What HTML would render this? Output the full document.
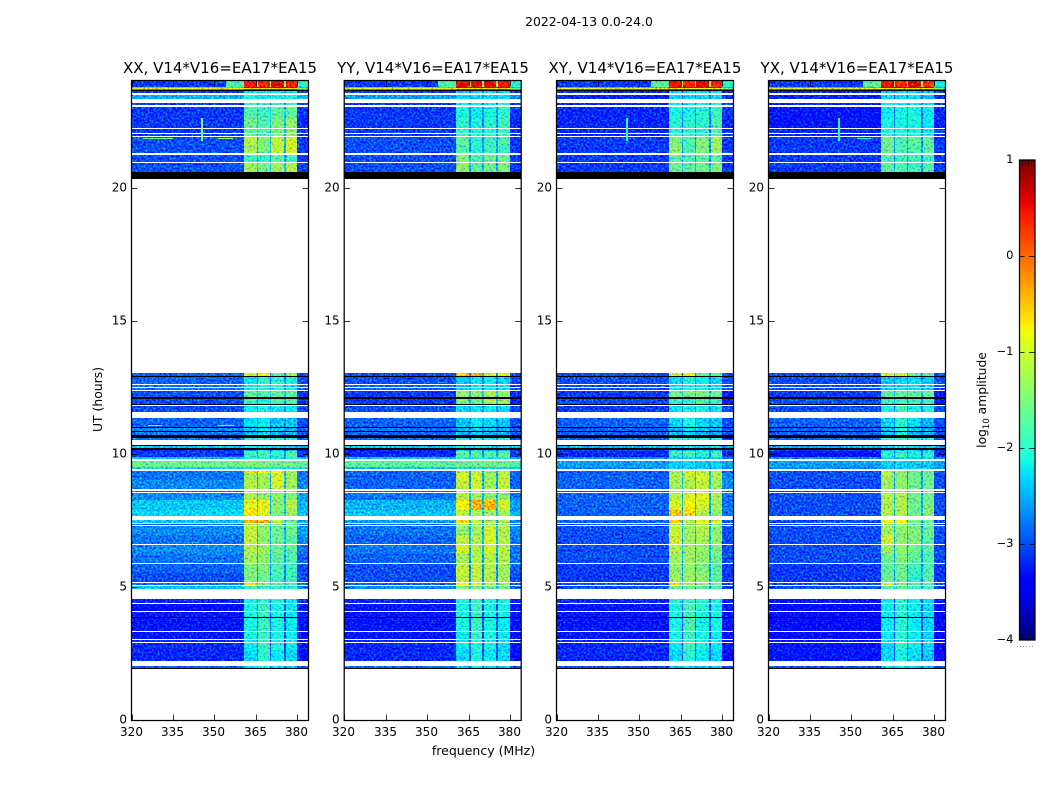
<!DOCTYPE html>
<html lang="en">
<head>
<meta charset="utf-8">
<title>2022-04-13 0.0-24.0</title>
<style>
html,body{margin:0;padding:0;background:#fff;}
svg{display:block;}
text{font-family:"DejaVu Sans","Liberation Sans",sans-serif;fill:#000;}
</style>
</head>
<body>
<svg id="figure" xmlns="http://www.w3.org/2000/svg" width="1050" height="800" viewBox="0 0 1050 800">
  <defs>
    <filter id="grain" x="0" y="0" width="100%" height="100%" color-interpolation-filters="sRGB">
      <feTurbulence type="fractalNoise" baseFrequency="0.5" numOctaves="2" seed="7" result="n"/>
      <feColorMatrix in="n" type="matrix" values="0.3 0 0 0 0.35  1 0 0 0 0  -0.4 0 0 0 0.7  0 0 0 0 1" result="c"/>
      <feComposite in="SourceGraphic" in2="c" operator="arithmetic" k1="0" k2="1" k3="1.3" k4="-0.65"/>
    </filter>
  </defs>
  <rect x="0" y="0" width="1050" height="800" fill="#fff"/>
  <text x="589" y="26" font-size="12.4" text-anchor="middle">2022-04-13 0.0-24.0</text>
  <text x="220" y="73" font-size="15" text-anchor="middle">XX, V14*V16=EA17*EA15</text>
  <text x="433" y="73" font-size="15" text-anchor="middle">YY, V14*V16=EA17*EA15</text>
  <text x="645" y="73" font-size="15" text-anchor="middle">XY, V14*V16=EA17*EA15</text>
  <text x="857" y="73" font-size="15" text-anchor="middle">YX, V14*V16=EA17*EA15</text>
  <text transform="translate(102,399.5) rotate(-90)" font-size="12.4" text-anchor="middle">UT (hours)</text>
  <text x="483.5" y="755" font-size="12.5" text-anchor="middle">frequency (MHz)</text>
  <text transform="translate(986,400) rotate(-90)" font-size="12.3" text-anchor="middle">log<tspan font-size="8.5" dy="3">10</tspan><tspan dy="-3"> amplitude</tspan></text>
  <g id="panels"></g>
  <g id="colorbar"></g>
</svg>
<script>
// ---- Axis categories and tick labels ----
const xTicks = [320, 335, 350, 365, 380];
const yTicks = [0, 5, 10, 15, 20];
const colorbarTicks = [-4, -3, -2, -1, 0, 1];
const colorbarTickLabels = ["\u22124", "\u22123", "\u22122", "\u22121", "0", "1"];
const colorbarMinor = [-4, 1];
const panelNames = ["xx", "yy", "xy", "yx"];

// Frequency segments (MHz): left, ramp, sub-band 1, gap, sub-band 2, gap, sub-band 3, gap, sub-band 4, right
const freqEdges = [320, 354, 360.5, 365.2, 365.8, 369.9, 370.6, 375, 375.7, 379.9, 384];

// Time rows (UT hours, top to bottom) and their kind: d = data, w = flagged blank, k = black
const rowEdges = [24.00,23.77,23.74,23.70,23.66,23.62,23.55,23.47,23.32,23.17,23.10,23.02,22.61,22.23,22.20,22.05,22.01,21.93,21.90,21.60,21.30,21.22,20.96,20.92,20.58,20.32,
13.03,12.92,12.88,12.62,12.58,12.51,12.47,12.39,12.36,12.13,12.06,11.87,11.83,11.79,11.57,11.34,11.00,10.97,10.85,10.82,10.70,10.59,10.52,10.33,10.29,10.22,10.14,10.10,9.88,9.80,9.73,9.50,9.43,9.35,9.28,9.01,8.68,8.60,8.56,8.53,8.26,7.89,7.66,7.51,7.40,7.36,7.32,7.29,6.95,6.61,6.57,6.23,5.90,5.86,5.52,5.18,5.15,5.07,5.03,4.92,4.54,4.39,4.36,4.09,4.06,3.87,3.83,3.34,3.31,3.04,3.00,2.93,2.89,2.63,2.22,2.03,1.95,1.92,0];
const rowKinds = "ddddkdwdwdwddwdwdwddwdwdkw" + "dkdwdwdwdkdkw" + "dwdkdkdkdw" + "kdkdddwddw" + "dddwdwdddw" + "dwdwddwddw" + "ddwdwdwdwd" + "wdkdwdwdwd" + "dwdkw";

// log10 amplitude per data row: [left, band1, band2, band3, band4, gap, right, (ramp)]
const valuesXX = [
[-3.1,.45,.4,.6,.45,-1.3,-2,-1.8],[-2.2,.75,.75,.75,.75,.7,-2.4],[-.9,-.7,-.7,-.7,-.7,-.7,-1.6],[-2.6,.6,.6,.6,.6,.6,-2.6],
[-3.1,-2.3,-2.2,-2.2,-2.2,-2.8,-3.1],[-2.5,-2.1,-2.2,-2.1,-2.1,-2.4,-2.5],[-3.1,-1.9,-2,-1.9,-1.9,-2.7,-3.1],
[-3.1,-1.8,-1.9,-1.7,-1.7,-2.4,-3.1],[-3.1,-1.6,-1.8,-1.5,-1.4,-2.4,-3.2],[-3.1,-1.7,-1.8,-1.5,-1.4,-2.4,-3.1],[-3.1,-1.6,-1.8,-1.5,-1.4,-2.4,-3.1],
[-3,-1.2,-1.5,-1.1,-1,-2.5,-3.1],[-3,-1.3,-1.5,-1.1,-1,-2.5,-3.1],[-3,-1.9,-2,-1.7,-1.9,-2.6,-3.1],[-3,-1.3,-1.6,-1.3,-1.2,-2.4,-3.1],
[-2.9,-1,-.8,-1.7,-1.3,-2.6,-3],[-2.9,-2.2,-2,-2,-2.1,-2.7,-3],[-2.8,-2.2,-2,-2,-2.2,-2.6,-2.9],[-2.8,-2.2,-2,-2.1,-2.2,-2.6,-2.9],
[-3,-1.7,-1.8,-1.7,-1.7,-2.4,-3.2],[-3,-1.9,-2.1,-1.8,-1.8,-2.6,-3.2],[-3,-2.2,-2.1,-2.2,-2.2,-2.7,-3],[-2.9,-2.3,-2.2,-2.4,-2.4,-2.7,-3],
[-2.7,-2.4,-2.2,-2.4,-2.5,-2.7,-2.9],[-2.8,-2.5,-2.3,-2.5,-2.5,-2.8,-3],[-2.8,-2,-2,-2.1,-2.1,-2.7,-2.9],[-2.4,-2.2,-2.2,-2.3,-2.3,-2.4,-2.5],
[-3.2,-2.4,-2.4,-2.4,-2.4,-3,-3.2],[-3.1,-1.9,-1.8,-2,-1.8,-2.6,-3.1],[-2.4,-2.1,-2.1,-2.2,-2.1,-2.3,-2.5],[-1.6,-1.5,-1.5,-1.6,-1.6,-1.6,-1.7],[-2.3,-2.2,-2.2,-2.2,-2.2,-2.3,-2.3],
[-2.8,-.6,-.7,-.7,-1.3,-2.4,-2.8],[-2.8,-1.3,-1.3,-1,-1.3,-2.5,-2.8],[-2.7,-1.2,-1.3,-1,-1.3,-2.5,-2.7],[-2.9,-1.3,-1.4,-1.3,-1.4,-2.6,-2.8],
[-2.7,-1.2,-1.4,-1.4,-1.5,-2.5,-2.6],[-2.4,-.9,-.9,-1.4,-1.2,-2.4,-2.5],[-2.3,-.7,-.9,-1.5,-1.3,-2.4,-2.4],[-2.4,-.4,-.4,-1.1,-1.6,-2.5,-2.5],[-2.9,-1.4,-1.5,-1.6,-1.7,-2.7,-2.8],
[-2.7,-1.1,-1.4,-1.6,-1.6,-2.5,-2.6],[-2.8,-1.1,-1.4,-1.6,-1.7,-2.5,-2.7],[-2.7,-1.2,-1.3,-1.6,-1.7,-2.5,-2.8],[-2.8,-1.3,-1.4,-1.7,-1.8,-2.6,-2.9],
[-2.9,-1.5,-1.5,-1.8,-1.9,-2.7,-3],[-3,-1.5,-1.6,-1.9,-1.9,-2.7,-3],[-2.8,-.6,-1.5,-1.6,-1.8,-2.6,-2.9],[-2.4,-1.9,-1.9,-2,-2,-2.4,-2.6],
[-3.2,-2.1,-2,-2.1,-2.2,-2.9,-3.2],[-3.4,-2.1,-1.9,-2.1,-2.2,-3,-3.3],[-3.3,-2.1,-1.9,-2.1,-2.2,-3,-3.3],[-3.3,-2.1,-1.9,-2.1,-2.2,-3,-3.3],[-3.3,-2.1,-1.9,-2.1,-2.2,-3,-3.4],
[-3.2,-2.2,-1.9,-2.1,-2.2,-3,-3.3],[-3.2,-2.2,-1.9,-2.1,-2.2,-3,-3.3],[-3.2,-2.3,-2,-2.2,-2.3,-3,-3.4],[-2.9,-2.3,-2.2,-2.3,-2.4,-2.8,-3]
];
const valuesYY = [
[-3.1,.6,.6,.6,.5,-1.3,-2,-1.8],[-2.2,.75,.75,.75,.75,.7,-2.4],[-.9,-.7,-.7,-.7,-.7,-.7,-1.6],[-2.6,.6,.6,.6,.6,.6,-2.6],
[-3.1,-2.4,-2.3,-2.3,-2.3,-2.9,-3.1],[-2.6,-2.3,-2.3,-2.3,-2.3,-2.5,-2.7],[-3.1,-2.2,-2.2,-2.2,-2.1,-2.8,-3.1],
[-3.1,-2.1,-2.2,-2.1,-2,-2.7,-3.1],[-3.1,-2,-2.1,-2,-1.9,-2.7,-3.2],[-3.1,-1.9,-2,-2,-1.9,-2.6,-3.1],[-3.1,-1.9,-2,-2,-1.9,-2.6,-3.1],
[-3,-1.7,-2,-1.9,-1.8,-2.6,-3.1],[-3,-1.8,-2,-1.9,-1.9,-2.6,-3.1],[-3,-1.5,-1.8,-1.6,-1.6,-2.5,-3.1],[-3,-1.4,-1.7,-1.6,-1.5,-2.5,-3.1],
[-3,-.5,-.4,-1,-.9,-2.6,-3],[-3,-2.4,-2.2,-2.2,-2.3,-2.7,-3],[-2.9,-2.4,-2.2,-2.2,-2.3,-2.7,-3],[-2.9,-2.4,-2.2,-2.2,-2.3,-2.7,-3],
[-3.1,-1.4,-1.4,-1.3,-1.4,-2.4,-3.2],[-3.1,-1.5,-1.6,-1.2,-1.3,-2.4,-3.2],[-3,-2.3,-2.2,-2.2,-2.3,-2.7,-3],[-2.9,-2.4,-2.2,-2.3,-2.4,-2.7,-3],
[-2.8,-2.5,-2.3,-2.4,-2.5,-2.7,-2.9],[-2.9,-2.5,-2.4,-2.5,-2.5,-2.8,-3],[-2.9,-2.1,-2,-2.1,-2.1,-2.7,-3],[-2.4,-2.2,-2.2,-2.3,-2.3,-2.4,-2.5],
[-3.2,-2.4,-2.4,-2.4,-2.4,-3,-3.2],[-3.2,-1.7,-1.7,-1.8,-1.7,-2.6,-3.1],[-2.4,-2.1,-2.1,-2.2,-2.1,-2.3,-2.5],[-1.7,-1.6,-1.6,-1.6,-1.6,-1.7,-1.8],[-2.4,-2.3,-2.3,-2.3,-2.3,-2.4,-2.4],
[-2.9,-1.1,-1.1,-1.4,-1.2,-2.5,-2.9],[-2.9,-1,-1,-1.3,-1.1,-2.6,-2.9],[-2.9,-1.1,-1,-1.3,-1.1,-2.6,-2.9],[-2.9,-1.2,-1.2,-1.4,-1.3,-2.6,-2.9],
[-2.8,-1.2,-1.3,-1.4,-1.4,-2.5,-2.8],[-2.5,-.8,-.4,-.4,-1,-2.4,-2.6],[-2.4,-1.1,-1.2,-1.3,-1.3,-2.4,-2.5],[-2.6,-.6,-1.1,-1.2,-1.2,-2.5,-2.7],[-2.9,-1.4,-1.4,-1.5,-1.5,-2.7,-2.9],
[-2.8,-1.4,-1.3,-1,-1.2,-2.5,-2.7],[-2.9,-1.1,-1.2,-1,-1.2,-2.5,-2.8],[-2.8,-1,-1.2,-1,-1.2,-2.5,-2.8],[-2.9,-1.3,-1.2,-1.2,-1.2,-2.6,-2.8],
[-3,-1.1,-1.1,-1.2,-1.3,-2.7,-2.9],[-3,-1.1,-1.1,-1.2,-1.3,-2.7,-3],[-2.9,-.8,-1.1,-1.2,-1.3,-2.6,-2.9],[-2.7,-1.5,-1.5,-1.6,-1.6,-2.5,-2.8],
[-3.2,-2.1,-1.9,-2.1,-2.1,-2.9,-3.2],[-3.3,-2.1,-1.9,-2.1,-2.1,-3,-3.3],[-3.3,-2.1,-1.9,-2.1,-2.1,-3,-3.3],[-3.3,-2.1,-1.9,-2.1,-2.2,-3,-3.3],[-3.3,-2.2,-1.9,-2.1,-2.2,-3,-3.4],
[-3.2,-2.2,-2,-2.2,-2.2,-3,-3.3],[-3.2,-2.2,-2,-2.1,-2.3,-3,-3.3],[-3.2,-2.3,-2.1,-2.2,-2.3,-3,-3.4],[-2.9,-2.3,-2.2,-2.3,-2.4,-2.8,-3]
];
const valuesXY = [
[-3.1,.5,.4,.65,.4,-1.2,-2,-1.7],[-2.4,.75,.75,.75,.75,.7,-2.5],[-.9,-.7,-.7,-.7,-.7,-.7,-1.6],[-2.8,.6,.6,.6,.6,.6,-2.8],
[-3.2,-2.4,-2.3,-2.3,-2.3,-2.9,-3.1],[-3.2,-2.3,-2.3,-2.3,-2.3,-2.9,-3.2],[-3.2,-2.2,-2.2,-2.2,-2.1,-2.8,-3.1],
[-3.2,-2.1,-2.1,-2,-1.9,-2.7,-3.1],[-3.2,-2,-2,-2,-1.8,-2.7,-3.2],[-3.2,-2,-2,-2,-1.8,-2.7,-3.1],[-3.2,-1.9,-2,-1.9,-1.8,-2.7,-3.1],
[-3.1,-1.5,-1.8,-1.5,-1.3,-2.6,-3.1],[-3.1,-1.4,-1.8,-1.5,-1.3,-2.6,-3.1],[-3.1,-1.7,-1.8,-1.7,-1.7,-2.6,-3.1],[-3.1,-1.6,-1.7,-1.6,-1.5,-2.5,-3.1],
[-3,-1,-.7,-1.7,-1.7,-2.6,-3],[-3,-2.3,-2.1,-2.2,-2.3,-2.7,-3],[-3,-2.3,-2.1,-2.2,-2.3,-2.7,-3],[-3,-2.3,-2.1,-2.2,-2.3,-2.7,-3],
[-3.1,-1.6,-1.6,-1.5,-1.6,-2.4,-3.3],[-3,-1.9,-2,-1.8,-1.9,-2.6,-3.2],[-3.1,-2.2,-2.1,-2.1,-2.2,-2.7,-3],[-2.9,-2.3,-2.1,-2.3,-2.4,-2.7,-3],
[-2.9,-2.5,-2.3,-2.4,-2.5,-2.8,-3],[-2.9,-2.5,-2.3,-2.5,-2.5,-2.8,-3],[-2.9,-2,-2,-2.1,-2.1,-2.7,-3],[-2.5,-2.3,-2.2,-2.3,-2.3,-2.5,-2.6],
[-3,-2.4,-2.4,-2.4,-2.4,-3,-3.1],[-3.2,-1.9,-1.8,-2,-1.9,-2.7,-3.2],[-2.7,-2.3,-2.3,-2.4,-2.3,-2.6,-2.7],[-2.6,-2.3,-2.3,-2.4,-2.3,-2.6,-2.6],[-2.7,-2.4,-2.4,-2.4,-2.4,-2.6,-2.7],
[-2.9,-1.3,-.9,-1.1,-1.2,-2.5,-2.9],[-2.9,-1.2,-1.1,-1,-1.2,-2.4,-2.7],[-2.9,-1.3,-1.2,-1.1,-1.3,-2.4,-2.7],[-3,-1.3,-1.2,-1.2,-1.4,-2.6,-3],
[-2.9,-1.2,-1,-.9,-1.2,-2.5,-2.8],[-2.9,-1,-.8,-1,-1.3,-2.5,-2.8],[-2.9,-.5,-.6,-1.2,-1.4,-2.5,-2.8],[-2.9,-.5,-1.2,-.9,-.9,-2.6,-2.9],[-3,-1.4,-1.4,-1.4,-1.5,-2.7,-3],
[-3,-1.1,-1.3,-1.2,-1.4,-2.5,-3],[-3,-1,-1.3,-1.3,-1.4,-2.5,-3],[-3,-1.2,-1.3,-1.4,-1.5,-2.5,-3],[-3,-1.3,-1.3,-1.4,-1.6,-2.5,-3],
[-3.1,-1.4,-1.4,-1.5,-1.7,-2.6,-3.1],[-3.1,-1.3,-1.3,-1.4,-1.7,-2.6,-3.1],[-3,-.5,-1.3,-1.3,-1.6,-2.6,-3],[-3,-1.6,-1.6,-1.7,-1.8,-2.6,-3],
[-3.2,-2,-1.9,-2,-2.1,-2.9,-3.2],[-3.3,-2.1,-1.8,-2,-2.1,-3,-3.3],[-3.3,-2.1,-1.9,-2.1,-2.1,-3,-3.3],[-3.3,-2.1,-1.8,-2.1,-2.1,-3,-3.3],[-3.3,-2.1,-1.9,-2.1,-2.2,-3,-3.4],
[-3.2,-2.2,-1.9,-2.2,-2.2,-3,-3.3],[-3.2,-2.2,-1.9,-2.1,-2.2,-3,-3.3],[-3.2,-2.3,-2,-2.2,-2.3,-3,-3.4],[-3,-2.4,-2.2,-2.4,-2.4,-2.8,-3]
];
const valuesYX = [
[-3.1,.5,.4,.65,.3,-1.2,-2.1,-1.7],[-2.4,.75,.75,.75,.75,.7,-2.5],[-.9,-.7,-.7,-.7,-.7,-.7,-1.6],[-2.8,.6,.6,.6,.6,.6,-2.8],
[-3.2,-2.4,-2.3,-2.3,-2.4,-2.9,-3.1],[-3.2,-2.3,-2.3,-2.3,-2.4,-2.9,-3.2],[-3.2,-2.2,-2.2,-2.2,-2.3,-2.8,-3.1],
[-3.3,-2.2,-2.1,-2.1,-2.2,-2.8,-3.2],[-3.3,-2.1,-2.1,-2.1,-2.2,-2.8,-3.2],[-3.2,-2.1,-2.1,-2.1,-2.2,-2.8,-3.1],[-3.2,-2,-2,-2.1,-2.1,-2.8,-3.1],
[-3.1,-1.6,-1.8,-1.7,-1.7,-2.6,-3.1],[-3.1,-1.6,-1.8,-1.8,-1.7,-2.6,-3.1],[-3.1,-1.8,-1.9,-1.9,-1.9,-2.6,-3.1],[-3.1,-1.7,-1.8,-1.9,-1.8,-2.6,-3.1],
[-3,-.9,-1,-1.7,-1.6,-2.6,-3],[-3,-2.4,-2.3,-2.3,-2.4,-2.7,-3],[-3,-2.4,-2.3,-2.3,-2.4,-2.7,-3],[-3,-2.4,-2.3,-2.3,-2.4,-2.7,-3],
[-3.1,-1.7,-1.7,-1.7,-1.7,-2.4,-3.3],[-3,-1.9,-1.9,-1.9,-1.9,-2.6,-3.2],[-3,-2.1,-1.9,-2.1,-2.1,-2.7,-3],[-2.9,-2.3,-2,-2.3,-2.5,-2.7,-3],
[-2.9,-2.4,-2.1,-2.4,-2.5,-2.8,-3],[-2.9,-2.4,-2.1,-2.5,-2.5,-2.8,-3],[-2.9,-2,-1.9,-2.1,-2.1,-2.7,-3],[-2.5,-2.3,-2.2,-2.3,-2.3,-2.5,-2.6],
[-3.1,-2.4,-2.4,-2.4,-2.4,-3,-3.1],[-3.3,-2,-1.9,-2.1,-2,-2.7,-3.2],[-2.7,-2.3,-2.3,-2.4,-2.3,-2.6,-2.7],[-2.6,-2.4,-2.3,-2.4,-2.4,-2.6,-2.6],[-2.7,-2.4,-2.4,-2.4,-2.4,-2.6,-2.7],
[-3,-1.2,-1.3,-1.6,-1.6,-2.6,-3],[-3,-1.2,-1.4,-1.6,-1.6,-2.6,-3],[-3,-1.3,-1.4,-1.6,-1.6,-2.6,-3],[-3.1,-1.4,-1.5,-1.7,-1.7,-2.7,-3.1],
[-3,-1.2,-1.2,-1.6,-1.6,-2.5,-3],[-3,-1.2,-1.2,-1.6,-1.5,-2.5,-3],[-3,-1.2,-1.2,-1.6,-1.4,-2.5,-3],[-3,-.8,-.8,-1.6,-1.7,-2.6,-3],[-3.1,-1.5,-1.5,-1.7,-1.7,-2.7,-3.1],
[-3,-1.3,-1.4,-1.5,-1.6,-2.5,-3],[-3,-1,-1.4,-1.5,-1.7,-2.5,-3],[-3,-1.3,-1.4,-1.6,-1.7,-2.5,-3],[-3,-1.6,-1.5,-1.7,-1.8,-2.6,-3],
[-3.1,-1.7,-1.6,-1.9,-1.8,-2.6,-3.1],[-3.1,-1.6,-1.6,-2,-1.7,-2.6,-3.1],[-3,-.9,-1.5,-1.8,-1.7,-2.6,-3],[-3,-1.8,-1.7,-1.9,-1.9,-2.6,-3],
[-3.3,-2.2,-2,-2.2,-2.3,-3,-3.3],[-3.4,-2.2,-2,-2.2,-2.3,-3,-3.4],[-3.4,-2.2,-2,-2.2,-2.3,-3,-3.4],[-3.4,-2.2,-2,-2.2,-2.3,-3,-3.4],[-3.4,-2.2,-2,-2.2,-2.3,-3,-3.4],
[-3.3,-2.3,-2,-2.2,-2.3,-3,-3.4],[-3.3,-2.3,-2,-2.2,-2.3,-3,-3.4],[-3.3,-2.3,-2.1,-2.3,-2.4,-3,-3.4],[-3,-2.4,-2.2,-2.3,-2.4,-2.8,-3.1]
];
// Narrow interference features: [freq start MHz, freq end MHz, UT top, UT bottom, log10 amplitude]
const featuresXX = [[345.3,345.9,22.61,21.75,-1.5],[324,335,21.87,21.84,-1.6],[351.3,356.8,21.87,21.84,-1.4],[351.3,357,11.08,11.05,-.5],[326,331,11.08,11.05,-1.6]];
const featuresYY = [];
const featuresXY = [[345.3,345.9,22.61,21.75,-2.1]];
const featuresYX = [[345.3,345.9,22.61,21.75,-2.1],[352,357,21.87,21.84,-2.2]];

// ---- Axis functions ----
const panelLeft = [131.5, 344.2, 556.5, 768.5];
const panelWidth = 177, plotTop = 80.5, plotBottom = 720.5;
const xMax = 384, yMax = 24, cMin = -4, cMax = 1;
const cbLeft = 1019.5, cbWidth = 15.5, cbTop = 160, cbBottom = 640;
function xScale(p, f) { return panelLeft[p] + (f - 320) * panelWidth / (xMax - 320); }
function yScale(h) { return 720 - h * 26.625; }
function cScale(v) { return cbBottom - (v - cMin) * (cbBottom - cbTop) / (cMax - cMin); }

function seg(t, pts) {
  for (let i = 0; i < pts.length - 1; i++) {
    if (t <= pts[i + 1][0]) { return pts[i][1] + (pts[i + 1][1] - pts[i][1]) * (t - pts[i][0]) / (pts[i + 1][0] - pts[i][0]); }
  }
  return pts[pts.length - 1][1];
}
function jet(v) {
  const t = Math.max(0, Math.min(1, (v - cMin) / (cMax - cMin)));
  const r = seg(t, [[0,0],[.35,0],[.66,1],[.89,1],[1,.5]]);
  const g = seg(t, [[0,0],[.125,0],[.375,1],[.64,1],[.91,0],[1,0]]);
  const b = seg(t, [[0,.5],[.11,1],[.34,1],[.65,0],[1,0]]);
  return "rgb(" + Math.round(r * 255) + "," + Math.round(g * 255) + "," + Math.round(b * 255) + ")";
}

const NS = "http://www.w3.org/2000/svg";
function svgEl(tag, attrs, parent) {
  const el = document.createElementNS(NS, tag);
  for (const k in attrs) { el.setAttribute(k, attrs[k]); }
  parent.appendChild(el);
  return el;
}

const allValues = [valuesXX, valuesYY, valuesXY, valuesYX];
const allFeatures = [featuresXX, featuresYY, featuresXY, featuresYX];
const panelsRoot = document.getElementById("panels");

panelNames.forEach(function (name, p) {
  const x0 = Math.round(xScale(p, 320));
  const x1 = Math.round(xScale(p, xMax));
  const g = svgEl("g", {}, panelsRoot);
  
  

  const cells = svgEl("g", { filter: "url(#grain)", "shape-rendering": "crispEdges" }, g);
  
  
  const overlay = svgEl("g", { "shape-rendering": "crispEdges" }, g);
  
  

  let dataIndex = 0;
  for (let r = 0; r < rowEdges.length - 1; r++) {
    const yA = Math.round(yScale(rowEdges[r]));
    const yB = Math.round(yScale(rowEdges[r + 1]));
    const kind = rowKinds[r];
    if (kind === "d") {
      const row = allValues[p][dataIndex++];
      if (!row) { continue; }
      const ramp = row[7] !== undefined ? row[7] : row[0];
      const segValues = [row[0], ramp, row[1], row[5], row[2], row[5], row[3], row[5], row[4], row[6]];
      for (let s = 0; s < segValues.length; s++) {
        const a = Math.round(xScale(p, freqEdges[s]));
        const b = Math.round(xScale(p, freqEdges[s + 1]));
        const cell = svgEl("rect", { x: a, y: yA, width: b - a, height: yB - yA, fill: jet(segValues[s]) }, cells);
        
        
      }
    } else {
      const flag = svgEl("rect", { x: x0, y: yA, width: x1 - x0, height: yB - yA, fill: kind === "k" ? "#000" : "#fff" }, overlay);
      
      
    }
  }

  allFeatures[p].forEach(function (f) {
    const a = Math.round(xScale(p, f[0]));
    const b = Math.round(xScale(p, f[1]));
    const yA = Math.round(yScale(f[2]));
    const yB = Math.round(yScale(f[3]));
    const mark = svgEl("rect", { x: a, y: yA, width: Math.max(1, b - a), height: Math.max(1, yB - yA), fill: jet(f[4]) }, overlay);
    
    
  });

  const frame = svgEl("rect", { x: panelLeft[p], y: plotTop, width: panelWidth, height: plotBottom - plotTop, fill: "none", stroke: "#000", "stroke-width": 1.25 }, g);
  
  

  xTicks.forEach(function (t) {
    const x = Math.round(xScale(p, t)) + 0.5;
    const bottom = svgEl("line", { x1: x, x2: x, y1: plotBottom, y2: plotBottom - 6, stroke: "#000", "stroke-width": 0.8 }, g);
    
    
    const top = svgEl("line", { x1: x, x2: x, y1: plotTop, y2: plotTop + 6, stroke: "#000", "stroke-width": 0.8 }, g);
    
    
    const label = svgEl("text", { x: x - 1, y: 736, "font-size": 12, "text-anchor": "middle" }, g);
    
    
    label.textContent = String(t);
  });
  yTicks.forEach(function (t) {
    const y = Math.round(yScale(t)) + 0.5;
    const left = svgEl("line", { x1: panelLeft[p], x2: panelLeft[p] + 6, y1: y, y2: y, stroke: "#000", "stroke-width": 0.8 }, g);
    
    
    const right = svgEl("line", { x1: panelLeft[p] + panelWidth, x2: panelLeft[p] + panelWidth - 6, y1: y, y2: y, stroke: "#000", "stroke-width": 0.8 }, g);
    
    
    const label = svgEl("text", { x: panelLeft[p] - 4.5, y: y + 3, "font-size": 12, "text-anchor": "end" }, g);
    
    
    label.textContent = String(t);
  });
});

// ---- Colorbar ----
const cb = document.getElementById("colorbar");
const cbRamp = svgEl("g", { "shape-rendering": "crispEdges" }, cb);


for (let py = cbTop; py < cbBottom; py++) {
  const v = cMin + (cbBottom - py - 0.5) * (cMax - cMin) / (cbBottom - cbTop);
  const step = svgEl("rect", { x: Math.floor(cbLeft), y: py, width: Math.ceil(cbWidth), height: 1, fill: jet(v) }, cbRamp);
  
  
}
const cbFrame = svgEl("rect", { x: cbLeft, y: cbTop, width: cbWidth, height: cbBottom - cbTop, fill: "none", stroke: "#000", "stroke-width": 1.25 }, cb);


colorbarTicks.forEach(function (t, i) {
  const y = cScale(t) + (t === cMin ? 0 : t === cMax ? 0 : 0.5);
  const l = svgEl("line", { x1: cbLeft, x2: cbLeft + 5, y1: y, y2: y, stroke: "#000", "stroke-width": 0.8 }, cb);
  
  
  const r = svgEl("line", { x1: cbLeft + cbWidth, x2: cbLeft + cbWidth - 6, y1: y, y2: y, stroke: "#000", "stroke-width": 0.8 }, cb);
  
  
  const label = svgEl("text", { x: 1013.5, y: cScale(t) + 3, "font-size": 11.5, "text-anchor": "end" }, cb);
  
  
  label.textContent = colorbarTickLabels[i];
});
colorbarMinor.forEach(function (t) {
  [3, 6, 9, 12].forEach(function (dx) {
    const dir = t === cMax ? 1 : -1;
    const m = svgEl("line", { x1: cbLeft + dx, x2: cbLeft + dx, y1: cScale(t), y2: cScale(t) + dir * 6, stroke: "#000", "stroke-width": 0.8 }, cb);
    
    
  });
});
const dots = svgEl("line", { x1: 1017, x2: 1035, y1: 646.5, y2: 646.5, stroke: "#999", "stroke-width": 1, "stroke-dasharray": "1 2" }, cb);


</script>
</body>
</html>
